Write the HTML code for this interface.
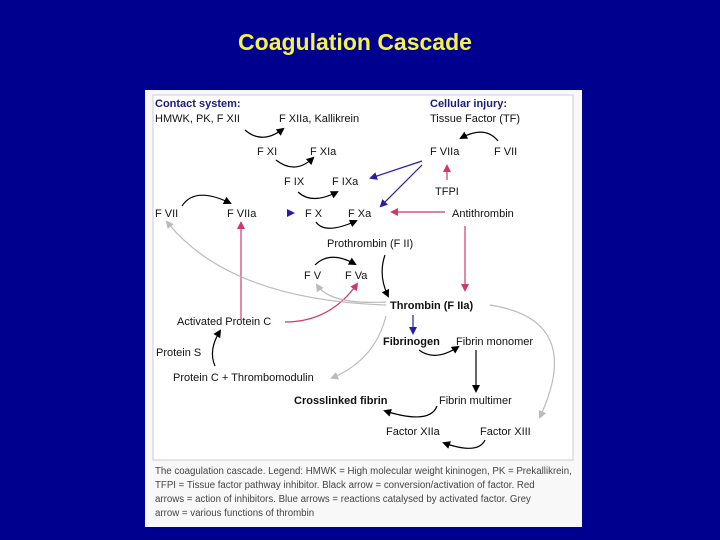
<!DOCTYPE html>
<html><head><meta charset="utf-8"><style>
html,body{margin:0;padding:0;background:#00008f;overflow:hidden;}
</style></head><body>
<svg width="720" height="540" xmlns="http://www.w3.org/2000/svg" font-family="Liberation Sans, sans-serif" style="display:block">
<defs>
<marker id="k" markerWidth="8" markerHeight="8" refX="6" refY="4" orient="auto" markerUnits="userSpaceOnUse"><path d="M0,0 L8,4 L0,8 Z" fill="#000"/></marker>
<marker id="r" markerWidth="8" markerHeight="8" refX="6" refY="4" orient="auto" markerUnits="userSpaceOnUse"><path d="M0,0 L8,4 L0,8 Z" fill="#d0386c"/></marker>
<marker id="b" markerWidth="8" markerHeight="8" refX="6" refY="4" orient="auto" markerUnits="userSpaceOnUse"><path d="M0,0 L8,4 L0,8 Z" fill="#2a1aa8"/></marker>
<marker id="g" markerWidth="8" markerHeight="8" refX="6" refY="4" orient="auto" markerUnits="userSpaceOnUse"><path d="M0,0 L8,4 L0,8 Z" fill="#bbb"/></marker>
</defs>
<rect width="720" height="540" fill="#00008f"/>
<text x="355" y="50" text-anchor="middle" font-size="23" font-weight="bold" fill="#f5f24a">Coagulation Cascade</text>
<rect x="145" y="90" width="437" height="437" fill="#f8f8f8"/>
<rect x="153" y="95" width="420" height="365" fill="#fff" stroke="#ccc" stroke-width="1"/>
<g font-size="11" fill="#111">
<text x="155" y="107" font-weight="bold" fill="#1a1a80">Contact system:</text>
<text x="155" y="122">HMWK, PK, F XII</text>
<text x="279" y="122">F XIIa, Kallikrein</text>
<text x="430" y="107" font-weight="bold" fill="#1a1a80">Cellular injury:</text>
<text x="430" y="122">Tissue Factor (TF)</text>
<text x="257" y="155">F XI</text>
<text x="310" y="155">F XIa</text>
<text x="430" y="155">F VIIa</text>
<text x="494" y="155">F VII</text>
<text x="284" y="185">F IX</text>
<text x="332" y="185">F IXa</text>
<text x="435" y="195">TFPI</text>
<text x="155" y="217">F VII</text>
<text x="227" y="217">F VIIa</text>
<text x="305" y="217">F X</text>
<text x="348" y="217">F Xa</text>
<text x="452" y="217">Antithrombin</text>
<text x="327" y="247">Prothrombin (F II)</text>
<text x="304" y="279">F V</text>
<text x="345" y="279">F Va</text>
<text x="390" y="309" font-weight="bold">Thrombin (F IIa)</text>
<text x="177" y="325">Activated Protein C</text>
<text x="383" y="345" font-weight="bold">Fibrinogen</text>
<text x="456" y="345">Fibrin monomer</text>
<text x="156" y="356">Protein S</text>
<text x="173" y="381">Protein C + Thrombomodulin</text>
<text x="294" y="404" font-weight="bold">Crosslinked fibrin</text>
<text x="439" y="404">Fibrin multimer</text>
<text x="386" y="435">Factor XIIa</text>
<text x="480" y="435">Factor XIII</text>
</g>
<g fill="none" stroke-width="1.2">
<path d="M245,130 Q262,145 283,129" stroke="#000" marker-end="url(#k)"/>
<path d="M276,160 Q295,175 313,158" stroke="#000" marker-end="url(#k)"/>
<path d="M498,141 Q485,125 461,138" stroke="#000" marker-end="url(#k)"/>
<path d="M298,192 Q312,205 337,192" stroke="#000" marker-end="url(#k)"/>
<path d="M182,206 Q195,186 230,203" stroke="#000" marker-end="url(#k)"/>
<path d="M316,222 Q325,235 356,221" stroke="#000" marker-end="url(#k)"/>
<path d="M315,265 Q330,250 355,264" stroke="#000" marker-end="url(#k)"/>
<path d="M385,255 Q378,275 388,296" stroke="#000" marker-end="url(#k)"/>
<path d="M419,350 Q435,362 458,347" stroke="#000" marker-end="url(#k)"/>
<path d="M476,350 L476,391" stroke="#000" marker-end="url(#k)"/>
<path d="M437,406 Q430,425 385,411" stroke="#000" marker-end="url(#k)"/>
<path d="M485,440 Q478,455 444,443" stroke="#000" marker-end="url(#k)"/>
<path d="M215,366 Q208,350 220,331" stroke="#000" marker-end="url(#k)"/>
<path d="M422,161 L371,178" stroke="#2a1aa8" marker-end="url(#b)"/>
<path d="M422,165 L381,206" stroke="#2a1aa8" marker-end="url(#b)"/>
<path d="M287,213 L293,213" stroke="#2a1aa8" marker-end="url(#b)"/>
<path d="M413,315 L413,333" stroke="#2a1aa8" marker-end="url(#b)"/>
<path d="M447,180 L447,166" stroke="#d0386c" marker-end="url(#r)"/>
<path d="M445,212 L392,212" stroke="#d0386c" marker-end="url(#r)"/>
<path d="M465,226 L465,290" stroke="#d0386c" marker-end="url(#r)"/>
<path d="M241,320 L241,223" stroke="#d0386c" marker-end="url(#r)"/>
<path d="M285,322 Q330,322 357,284" stroke="#d0386c" marker-end="url(#r)"/>
<path d="M386,305 Q230,300 167,222" stroke="#bbb" marker-end="url(#g)"/>
<path d="M386,302 Q330,305 317,285" stroke="#bbb" marker-end="url(#g)"/>
<path d="M386,316 Q375,360 332,378" stroke="#bbb" marker-end="url(#g)"/>
<path d="M490,305 Q585,320 540,417" stroke="#bbb" marker-end="url(#g)"/>
</g>
<g font-size="9.7" fill="#444">
<text x="155" y="474">The coagulation cascade. Legend: HMWK = High molecular weight kininogen, PK = Prekallikrein,</text>
<text x="155" y="488">TFPI = Tissue factor pathway inhibitor. Black arrow = conversion/activation of factor. Red</text>
<text x="155" y="502">arrows = action of inhibitors. Blue arrows = reactions catalysed by activated factor. Grey</text>
<text x="155" y="516">arrow = various functions of thrombin</text>
</g>
</svg>
</body></html>
